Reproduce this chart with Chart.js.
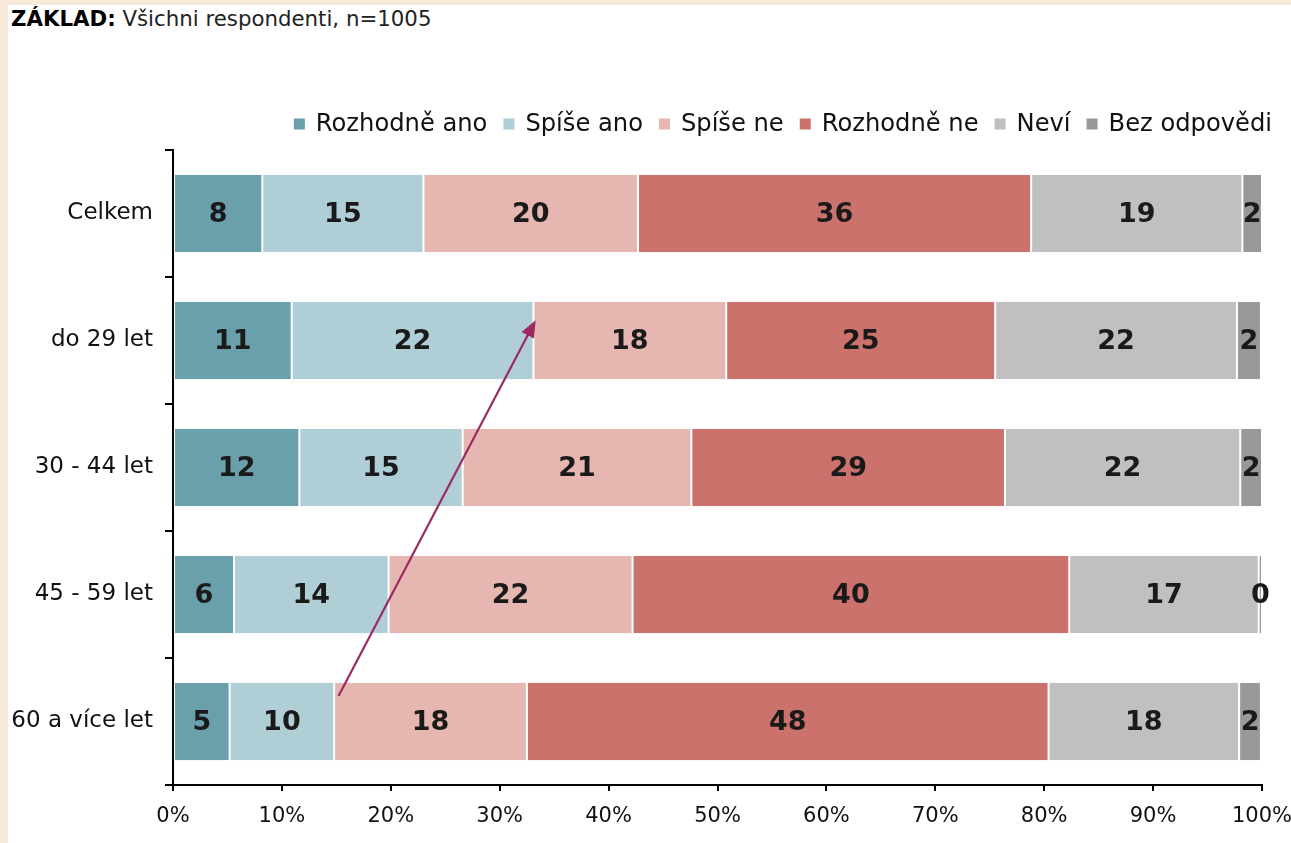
<!DOCTYPE html>
<html>
<head>
<meta charset="utf-8">
<script src="https://cdn.jsdelivr.net/npm/chart.js@4.4.1/dist/chart.umd.min.js"></script>
<style>
    html, body { margin: 0; padding: 0; }
    body { width: 1291px; height: 843px; background: #f8eadb; overflow: hidden; }
    #panel { position: absolute; left: 8px; top: 5px; width: 1283px; height: 838px; background: #fff; }
    #base { position: absolute; left: 3px; top: 1px; font-family: "DejaVu Sans", Verdana, sans-serif; font-size: 21.3px; color: #222; white-space: nowrap; }
    #base b { color: #000; }
    #chartBox { position: absolute; left: 0; top: 0; width: 1283px; height: 838px; }
</style>
</head>
<body>
<div id="panel">
    <div id="base"><b>ZÁKLAD:</b> Všichni respondenti, n=1005</div>
    <div id="chartBox"><canvas id="surveyChart"></canvas></div>
</div>
<script>
let groups = ["Celkem", "do 29 let", "30 - 44 let", "45 - 59 let", "60 a více let"];
let answers = ["Rozhodně ano", "Spíše ano", "Spíše ne", "Rozhodně ne", "Neví", "Bez odpovědi"];

// bar widths (percent)
let rozhodneAno = [8.2, 10.9, 11.6, 5.6, 5.2];
let spiseAno = [14.8, 22.2, 15.0, 14.2, 9.6];
let spiseNe = [19.7, 17.7, 21.0, 22.4, 17.7];
let rozhodneNe = [36.1, 24.7, 28.8, 40.1, 47.9];
let nevi = [19.4, 22.2, 21.6, 17.4, 17.5];
let bezOdpovedi = [1.8, 2.2, 2.0, 0.3, 2.0];

// labels printed on the bars
let rozhodneAnoText = [8, 11, 12, 6, 5];
let spiseAnoText = [15, 22, 15, 14, 10];
let spiseNeText = [20, 18, 21, 22, 18];
let rozhodneNeText = [36, 25, 29, 40, 48];
let neviText = [19, 22, 22, 17, 18];
let bezOdpovediText = [2, 2, 2, 0, 2];

let xTicks = [0, 10, 20, 30, 40, 50, 60, 70, 80, 90, 100];

// arrow drawn over the bars, in data units (x = percent, y = group index)
let arrowFrom = [15.2, 3.8];
let arrowTo = [33.3, 0.84];

let colors = ["#6a9fac", "#b0ced6", "#e6b6b0", "#cc726d", "#c0c0c0", "#999999"];

const font = "'DejaVu Sans', Verdana, sans-serif";

let seriesValues = [rozhodneAno, spiseAno, spiseNe, rozhodneNe, nevi, bezOdpovedi];
let seriesText = [rozhodneAnoText, spiseAnoText, spiseNeText, rozhodneNeText, neviText, bezOdpovediText];

let datasets = answers.map((name, i) => ({
    label: name,
    data: seriesValues[i],
    texts: seriesText[i],
    backgroundColor: colors[i],
    borderColor: "#ffffff",
    borderWidth: { left: 1, right: 1, top: 0, bottom: 0 },
    borderSkipped: false,
    barPercentage: 0.61,
    categoryPercentage: 1.0
}));

// writes the numbers into the bars
const barLabels = {
    id: "barLabels",
    afterDatasetsDraw(chart) {
        let ctx = chart.ctx;
        ctx.save();
        ctx.font = "bold 27px " + font;
        ctx.fillStyle = "#1a1a1a";
        ctx.textAlign = "center";
        ctx.textBaseline = "middle";
        chart.data.datasets.forEach((ds, i) => {
            chart.getDatasetMeta(i).data.forEach((bar, j) => {
                let cx = (bar.x + bar.base) / 2;
                ctx.fillText(String(ds.texts[j]), cx, bar.y + 1);
            });
        });
        ctx.restore();
    }
};

// legend in one row, right aligned above the plot
const topLegend = {
    id: "topLegend",
    afterDraw(chart) {
        let ctx = chart.ctx;
        let box = 11, gap = 11, between = 16;
        let y = chart.chartArea.top - 26;
        ctx.save();
        ctx.font = "24.2px " + font;
        ctx.textBaseline = "middle";
        let widths = chart.data.datasets.map(ds => ctx.measureText(ds.label).width);
        let total = widths.reduce((a, w) => a + box + gap + w, 0) + between * (widths.length - 1);
        let x = chart.chartArea.right + 10 - total;
        chart.data.datasets.forEach((ds, i) => {
            ctx.fillStyle = ds.backgroundColor;
            ctx.fillRect(x, y - box / 2, box, box);
            ctx.fillStyle = "#111";
            ctx.fillText(ds.label, x + box + gap, y + 1);
            x += box + gap + widths[i] + between;
        });
        ctx.restore();
    }
};

const arrow = {
    id: "arrow",
    afterDraw(chart) {
        let xs = chart.scales.x, ys = chart.scales.y;
        let x1 = xs.getPixelForValue(arrowFrom[0]), y1 = ys.getPixelForValue(arrowFrom[1]);
        let x2 = xs.getPixelForValue(arrowTo[0]), y2 = ys.getPixelForValue(arrowTo[1]);
        let ang = Math.atan2(y2 - y1, x2 - x1);
        let ctx = chart.ctx;
        ctx.save();
        ctx.strokeStyle = "#9c2a62";
        ctx.fillStyle = "#9c2a62";
        ctx.lineWidth = 2.2;
        ctx.beginPath();
        ctx.moveTo(x1, y1);
        ctx.lineTo(x2 - 12 * Math.cos(ang), y2 - 12 * Math.sin(ang));
        ctx.stroke();
        ctx.beginPath();
        ctx.moveTo(x2, y2);
        ctx.lineTo(x2 - 17 * Math.cos(ang) + 7 * Math.sin(ang), y2 - 17 * Math.sin(ang) - 7 * Math.cos(ang));
        ctx.lineTo(x2 - 17 * Math.cos(ang) - 7 * Math.sin(ang), y2 - 17 * Math.sin(ang) + 7 * Math.cos(ang));
        ctx.closePath();
        ctx.fill();
        ctx.restore();
    }
};

window.onload = function() {
    let ctx = document.getElementById("surveyChart").getContext("2d");
    new Chart(ctx, {
        type: "bar",
        data: { labels: groups, datasets: datasets },
        plugins: [barLabels, topLegend, arrow],
        options: {
            indexAxis: "y",
            responsive: true,
            maintainAspectRatio: false,
            animation: false,
            layout: { padding: { left: 0, right: 29, top: 145, bottom: 0 } },
            scales: {
                x: {
                    stacked: true,
                    min: 0,
                    max: 100,
                    afterBuildTicks: s => { s.ticks = xTicks.map(v => ({ value: v })); },
                    afterFit: s => { s.height = 58; s.paddingLeft = 0; s.paddingRight = 0; },
                    border: { color: "#000", width: 2 },
                    grid: { drawOnChartArea: false, color: "#000", lineWidth: 2, tickLength: 6 },
                    ticks: {
                        color: "#111",
                        padding: 13,
                        maxRotation: 0,
                        font: { family: font, size: 21 },
                        callback: v => v + "%"
                    }
                },
                y: {
                    stacked: true,
                    afterFit: s => { s.width = 165; s.paddingTop = 0; s.paddingBottom = 0; },
                    border: { color: "#000", width: 2 },
                    grid: { drawOnChartArea: false, offset: true, color: "#000", lineWidth: 2, tickLength: 8 },
                    ticks: {
                        color: "#111",
                        padding: 12,
                        font: { family: font, size: 23 }
                    }
                }
            },
            plugins: {
                legend: { display: false },
                tooltip: { enabled: false }
            }
        }
    });
};
</script>
</body>
</html>
